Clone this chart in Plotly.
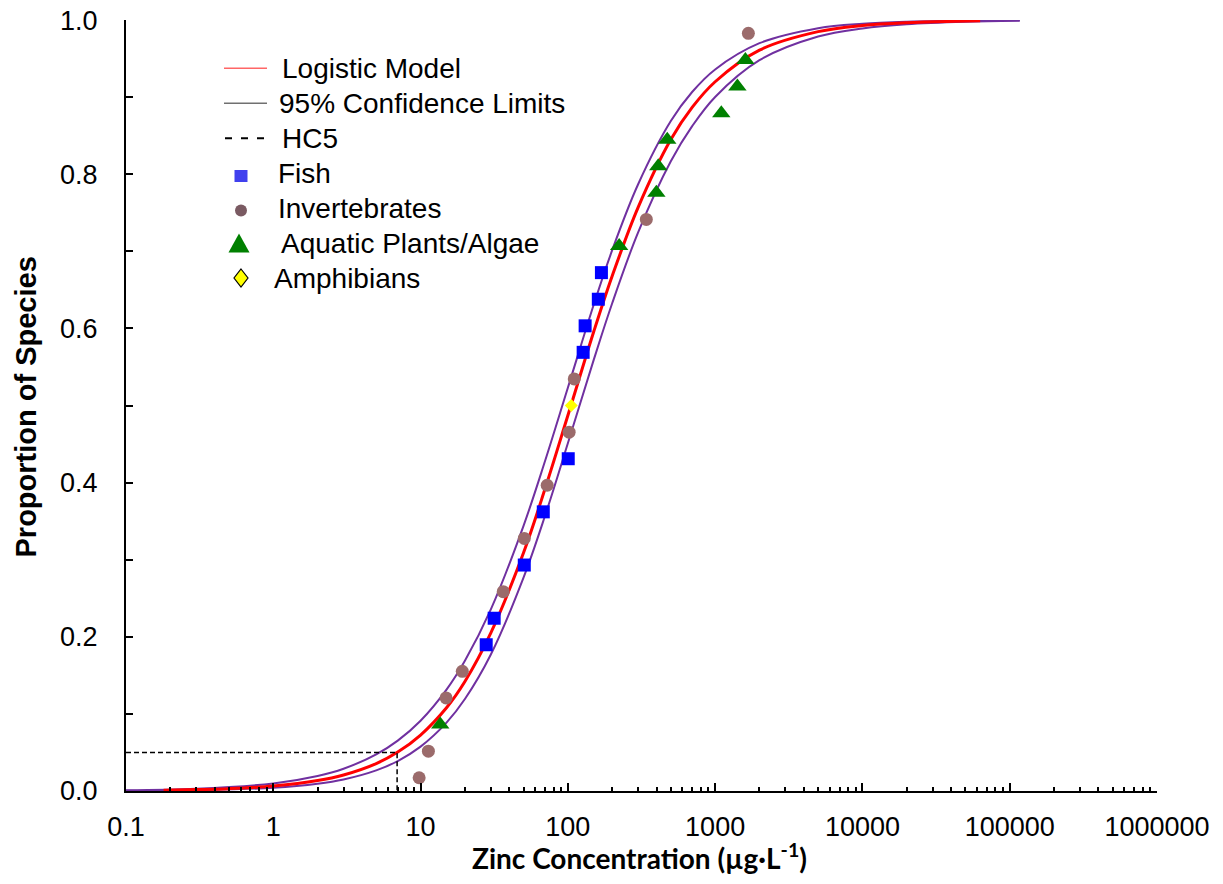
import plotly.graph_objects as go

# ---- data ----
fish_x = [27.9, 31.6, 50.6, 68.1, 100.6, 127, 131, 161, 169]
fish_y = [0.1897, 0.2241, 0.2931, 0.3621, 0.4310, 0.5690, 0.6034, 0.6379, 0.6724]

inv_x = [9.78, 11.3, 14.9, 19.2, 36.4, 50.6, 72.4, 102, 110.5, 341, 1681]
inv_y = [0.0172, 0.0517, 0.1207, 0.1552, 0.2586, 0.3276, 0.3966, 0.4655, 0.5345, 0.7414, 0.9828]

plant_x = [13.6, 223, 399, 411, 473, 1101, 1416, 1604]
plant_y = [0.0862, 0.7069, 0.7759, 0.8103, 0.8448, 0.8793, 0.9138, 0.9483]

amph_x = [105.5]
amph_y = [0.5]

model_x = [0.18, 0.3, 0.5, 1, 2, 3, 5, 7, 10, 15, 20, 30, 50, 70, 100, 150, 200,
           300, 500, 700, 1000, 2000, 5000, 10000, 20000, 63000]
model_y = [0.001, 0.0018, 0.003, 0.0064, 0.0135, 0.0208, 0.0356, 0.0505, 0.0726, 0.108,
           0.142, 0.205, 0.309, 0.392, 0.487, 0.596, 0.668, 0.757, 0.845, 0.887, 0.920,
           0.961, 0.985, 0.993, 0.9966, 0.999]

ci_x = [0.1, 0.3, 1, 2, 3, 5, 7, 10, 15, 20, 30, 50, 70, 100, 150, 200, 300, 500, 700,
        1000, 2000, 5000, 10000, 20000, 50000, 117000]
ci_upper = [0.001, 0.003, 0.0098, 0.0195, 0.0289, 0.0475, 0.0654, 0.0912, 0.1316, 0.169,
            0.2356, 0.344, 0.428, 0.523, 0.631, 0.7015, 0.787, 0.869, 0.907, 0.936, 0.970,
            0.9895, 0.9953, 0.9979, 0.9993, 0.9997]
ci_lower = [0.0003, 0.001, 0.0042, 0.0094, 0.0149, 0.0267, 0.0389, 0.0576, 0.0887, 0.1193,
            0.177, 0.2767, 0.357, 0.451, 0.5595, 0.6327, 0.7246, 0.8168, 0.8627, 0.9003,
            0.948, 0.9787, 0.9892, 0.9946, 0.9978, 0.9991]

hc5_x = [0.1, 6.93, 6.93]
hc5_y = [0.05, 0.05, 0.0]

x_tickvals = [0.1, 1, 10, 100, 1000, 10000, 100000, 1000000]
x_ticktext = ["0.1", "1", "10", "100", "1000", "10000", "100000", "1000000"]
x_minorvals = [m * 10 ** e for e in range(-1, 6) for m in range(2, 10)]

y_tickvals = [0.0, 0.2, 0.4, 0.6, 0.8, 1.0]
y_ticktext = ["0.0", "0.2", "0.4", "0.6", "0.8", "1.0"]
y_minorvals = [0.1, 0.3, 0.5, 0.7, 0.9]

legend_names = ["Logistic Model", "95% Confidence Limits", "HC5", "Fish",
                "Invertebrates", "Aquatic Plants/Algae", "Amphibians"]

PURPLE = "#7030A0"

FIG_W, FIG_H = 1223, 884
# plot-area geometry in pixels
L, R, T, B = 126, 1157, 20, 791
W, H = R - L, B - T


def px(x):
    return (x - L) / W


def py(y):
    return (B - y) / H


fig = go.Figure()

# curves
fig.add_trace(go.Scatter(x=ci_x, y=ci_upper, mode="lines", line=dict(color=PURPLE, width=2, shape="spline"),
                         showlegend=False, hoverinfo="skip"))
fig.add_trace(go.Scatter(x=ci_x, y=ci_lower, mode="lines", line=dict(color=PURPLE, width=2, shape="spline"),
                         showlegend=False, hoverinfo="skip"))
fig.add_trace(go.Scatter(x=model_x, y=model_y, mode="lines", line=dict(color="#FF0000", width=3, shape="spline"),
                         showlegend=False))
fig.add_trace(go.Scatter(x=hc5_x, y=hc5_y, mode="lines", line=dict(color="black", width=1.5, dash="5px,3px"),
                         showlegend=False))

# points
fig.add_trace(go.Scatter(x=fish_x, y=fish_y, mode="markers",
                         marker=dict(symbol="square", size=13, color="#0000FF"), showlegend=False))
fig.add_trace(go.Scatter(x=inv_x, y=inv_y, mode="markers",
                         marker=dict(symbol="circle", size=13, color="#9B6B6B"), showlegend=False))
fig.add_trace(go.Scatter(x=plant_x, y=plant_y, mode="markers",
                         marker=dict(symbol="triangle-up", size=16, color="#008000"), showlegend=False))
fig.add_trace(go.Scatter(x=amph_x, y=amph_y, mode="markers",
                         marker=dict(symbol="diamond", size=10, color="#FFFF00"), showlegend=False))

# ---- hand-built legend (symbols as shapes, labels as annotations) ----
shapes = []
annotations = []
row_y = [67.5, 102.5, 137.5, 172.5, 207.5, 242.5, 277.5]
text_x = [280, 277, 280, 276, 276, 279, 272]
LEGFONT = dict(family="Liberation Sans, Arial", size=28, color="black")
for name, tx, ty in zip(legend_names, text_x, row_y):
    annotations.append(dict(text=name, xref="paper", yref="paper", x=px(tx), y=py(ty + 1),
                            xanchor="left", yanchor="middle", showarrow=False, font=LEGFONT))

shapes.append(dict(type="line", xref="paper", yref="paper", x0=px(224), x1=px(267),
                   y0=py(68.3), y1=py(68.3), line=dict(color="#FF6666", width=1.5)))
shapes.append(dict(type="line", xref="paper", yref="paper", x0=px(224), x1=px(267),
                   y0=py(103.3), y1=py(103.3), line=dict(color="#707070", width=1.5)))
shapes.append(dict(type="line", xref="paper", yref="paper", x0=px(225), x1=px(272),
                   y0=py(138.3), y1=py(138.3), line=dict(color="black", width=2, dash="7px,9px")))
shapes.append(dict(type="rect", xref="paper", yref="paper", x0=px(234.5), x1=px(247.5),
                   y0=py(182), y1=py(170), fillcolor="#4040EE", line=dict(width=0)))
shapes.append(dict(type="circle", xref="paper", yref="paper", x0=px(235), x1=px(247),
                   y0=py(216.5), y1=py(204.5), fillcolor="#7A5A62", line=dict(width=0)))
shapes.append(dict(type="path", xref="paper", yref="paper",
                   path=f"M {px(228.5)},{py(252.5)} L {px(249.5)},{py(252.5)} L {px(239)},{py(233.5)} Z",
                   fillcolor="#008000", line=dict(width=0)))
shapes.append(dict(type="path", xref="paper", yref="paper",
                   path=f"M {px(241)},{py(269)} L {px(248)},{py(278)} L {px(241)},{py(287)} L {px(234)},{py(278)} Z",
                   fillcolor="#FFFF00", line=dict(color="black", width=1.2)))

# axis titles
annotations.append(dict(text="<b>Zinc Concentration (µg·L<sup>-1</sup>)</b>", xref="paper", yref="paper",
                        x=px(639), y=py(857), xanchor="center", yanchor="middle",
                        showarrow=False, font=dict(family="Lato", size=28, color="black")))
annotations.append(dict(text="<b>Proportion of Species</b>", xref="paper", yref="paper",
                        x=px(25), y=py(407.5), xanchor="center", yanchor="middle",
                        textangle=-90, showarrow=False,
                        font=dict(family="Liberation Sans, Arial", size=29, color="black")))

TICKFONT = dict(family="Liberation Sans, Arial", size=27, color="black")

fig.update_layout(
    width=FIG_W, height=FIG_H,
    margin=dict(l=L, r=FIG_W - R, t=T, b=FIG_H - B),
    paper_bgcolor="white", plot_bgcolor="white",
    showlegend=False,
    xaxis=dict(type="log", range=[-1, 6], showgrid=False, zeroline=False, automargin=False,
               showline=True, linecolor="black", linewidth=2,
               tickmode="array", tickvals=x_tickvals, ticktext=x_ticktext,
               ticks="inside", ticklen=8, tickwidth=1.5, tickcolor="black",
               tickfont=TICKFONT, ticklabelstandoff=11, ticklabeloverflow="allow",
               minor=dict(tickmode="array", tickvals=x_minorvals, ticks="inside", ticklen=4,
                          tickwidth=1.5, tickcolor="black", showgrid=False)),
    yaxis=dict(range=[0, 1.0001], showgrid=False, zeroline=False, automargin=False,
               showline=True, linecolor="black", linewidth=2,
               tickmode="array", tickvals=y_tickvals, ticktext=y_ticktext,
               ticks="inside", ticklen=7, tickwidth=1.5, tickcolor="black",
               tickfont=TICKFONT, ticklabelstandoff=21, ticklabeloverflow="allow",
               minor=dict(tickmode="array", tickvals=y_minorvals, ticks="inside", ticklen=7,
                          tickwidth=1.5, tickcolor="black", showgrid=False)),
    shapes=shapes,
    annotations=annotations,
)

# remove the browser's default 8px page margin so the figure sits at the window corner
fig.write_html("out.html", config={"displayModeBar": False},
               post_script="document.body.style.margin='0px';")
